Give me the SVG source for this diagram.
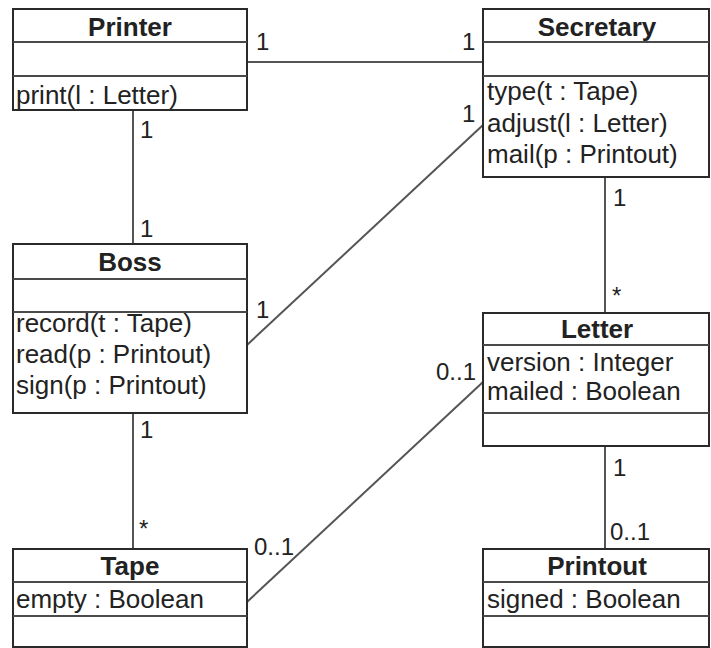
<svg xmlns="http://www.w3.org/2000/svg" width="711" height="648" viewBox="0 0 711 648">
  <style>
    .box { fill: #ffffff; stroke: #2a2a2a; stroke-width: 2; }
    .div { stroke: #4a4a4a; stroke-width: 2; }
    .conn { stroke: #555555; stroke-width: 2; fill: none; }
    text { font-family: "Liberation Sans", Arial, sans-serif; font-size: 26px; fill: #222222; }
    .title { font-weight: bold; text-anchor: middle; }
    .mult { font-size: 24px; }
  </style>
  <rect width="711" height="648" fill="#ffffff"/>

  <!-- associations -->
  <g id="connectors">
    <line class="conn" x1="247" y1="62" x2="483" y2="62"/>
    <line class="conn" x1="133" y1="110" x2="133" y2="244"/>
    <line class="conn" x1="247" y1="345" x2="483" y2="125"/>
    <line class="conn" x1="605" y1="177" x2="605" y2="313"/>
    <line class="conn" x1="133" y1="413" x2="133" y2="549"/>
    <line class="conn" x1="247" y1="602" x2="483" y2="382"/>
    <line class="conn" x1="605" y1="446" x2="605" y2="549"/>
    <!-- multiplicities -->
    <text class="mult" x="256" y="50">1</text>
    <text class="mult" x="462" y="50">1</text>
    <text class="mult" x="462" y="122">1</text>
    <text class="mult" x="140" y="138">1</text>
    <text class="mult" x="140" y="237">1</text>
    <text class="mult" x="256" y="318">1</text>
    <text class="mult" x="613" y="206">1</text>
    <text class="mult" x="612" y="304">*</text>
    <text class="mult" x="140" y="438">1</text>
    <text class="mult" x="139" y="537">*</text>
    <text class="mult" x="436" y="380">0..1</text>
    <text class="mult" x="254" y="555">0..1</text>
    <text class="mult" x="613" y="476">1</text>
    <text class="mult" x="610" y="540">0..1</text>
  </g>

  <g id="printer">
    <rect class="box" x="13" y="9" width="234" height="101"/>
    <line class="div" x1="13" y1="42" x2="247" y2="42"/>
    <line class="div" x1="13" y1="76" x2="247" y2="76"/>
    <text class="title" x="130" y="36">Printer</text>
    <text x="16" y="104">print(l : Letter)</text>
  </g>

  <g id="secretary">
    <rect class="box" x="483" y="9" width="226" height="168"/>
    <line class="div" x1="483" y1="42" x2="709" y2="42"/>
    <line class="div" x1="483" y1="76" x2="709" y2="76"/>
    <text class="title" x="597" y="36">Secretary</text>
    <text x="487" y="100">type(t : Tape)</text>
    <text x="487" y="132">adjust(l : Letter)</text>
    <text x="487" y="163">mail(p : Printout)</text>
  </g>

  <g id="boss">
    <rect class="box" x="13" y="244" width="234" height="169"/>
    <line class="div" x1="13" y1="279" x2="247" y2="279"/>
    <line class="div" x1="13" y1="312" x2="247" y2="312"/>
    <text class="title" x="130" y="271">Boss</text>
    <text x="16" y="332">record(t : Tape)</text>
    <text x="16" y="363">read(p : Printout)</text>
    <text x="16" y="394">sign(p : Printout)</text>
  </g>

  <g id="letter">
    <rect class="box" x="483" y="313" width="226" height="133"/>
    <line class="div" x1="483" y1="345" x2="709" y2="345"/>
    <line class="div" x1="483" y1="413" x2="709" y2="413"/>
    <text class="title" x="597" y="338">Letter</text>
    <text x="487" y="371">version : Integer</text>
    <text x="487" y="400">mailed : Boolean</text>
  </g>

  <g id="tape">
    <rect class="box" x="13" y="549" width="234" height="98"/>
    <line class="div" x1="13" y1="582" x2="247" y2="582"/>
    <line class="div" x1="13" y1="616" x2="247" y2="616"/>
    <text class="title" x="130" y="575">Tape</text>
    <text x="16" y="608">empty : Boolean</text>
  </g>

  <g id="printout">
    <rect class="box" x="483" y="549" width="226" height="98"/>
    <line class="div" x1="483" y1="582" x2="709" y2="582"/>
    <line class="div" x1="483" y1="616" x2="709" y2="616"/>
    <text class="title" x="597" y="575">Printout</text>
    <text x="487" y="608">signed : Boolean</text>
  </g>
</svg>
